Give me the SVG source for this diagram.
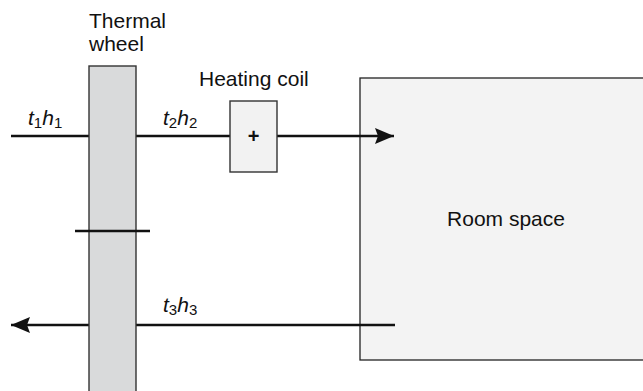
<svg xmlns="http://www.w3.org/2000/svg" width="643" height="391" viewBox="0 0 643 391">
<style>
text{font-family:"Liberation Sans",Arial,Helvetica,sans-serif;fill:#111;}
.lbl{font-size:21px;}
.it{font-style:italic;}
.sub{font-size:15px;font-style:normal;}
.flow{stroke:#111;stroke-width:2.5;fill:none;}
</style>
<defs>
<marker id="arr" markerUnits="userSpaceOnUse" markerWidth="22" markerHeight="20" viewBox="0 -10 22 20" refX="19" refY="0" orient="auto">
<path d="M0,-8 L19,0 L0,8 L3,0 z" fill="#111"/>
</marker>
</defs>
<rect width="643" height="391" fill="#fff"/>
<g id="room">
<rect x="360" y="78" width="300" height="282" fill="#f3f3f3" stroke="#222" stroke-width="1.3"/>
<text class="lbl" x="506" y="226" text-anchor="middle">Room space</text>
</g>
<g id="connectors">
<line class="flow" x1="11" y1="136" x2="394" y2="136" marker-end="url(#arr)"/>
<line class="flow" x1="395" y1="325" x2="11" y2="325" marker-end="url(#arr)"/>
</g>
<g id="wheel">
<rect x="89" y="66" width="47" height="340" fill="#d9dadb" stroke="#333" stroke-width="1.4"/>
<line class="flow" x1="75" y1="231" x2="150" y2="231"/>
<text class="lbl" x="89" y="28">Thermal</text>
<text class="lbl" x="89" y="51">wheel</text>
</g>
<g id="coil">
<rect x="230" y="101" width="47" height="71" fill="#f2f2f2" stroke="#333" stroke-width="1.4"/>
<text x="253.5" y="143" text-anchor="middle" font-size="20" font-weight="bold">+</text>
<text class="lbl" x="199" y="86">Heating coil</text>
</g>
<g id="labels">
<text class="lbl" x="28" y="125"><tspan class="it">t</tspan><tspan class="sub" dy="3">1</tspan><tspan class="it" dy="-3">h</tspan><tspan class="sub" dy="3">1</tspan></text>
<text class="lbl" x="163" y="125"><tspan class="it">t</tspan><tspan class="sub" dy="3">2</tspan><tspan class="it" dy="-3">h</tspan><tspan class="sub" dy="3">2</tspan></text>
<text class="lbl" x="163" y="312"><tspan class="it">t</tspan><tspan class="sub" dy="3">3</tspan><tspan class="it" dy="-3">h</tspan><tspan class="sub" dy="3">3</tspan></text>
</g>
</svg>
